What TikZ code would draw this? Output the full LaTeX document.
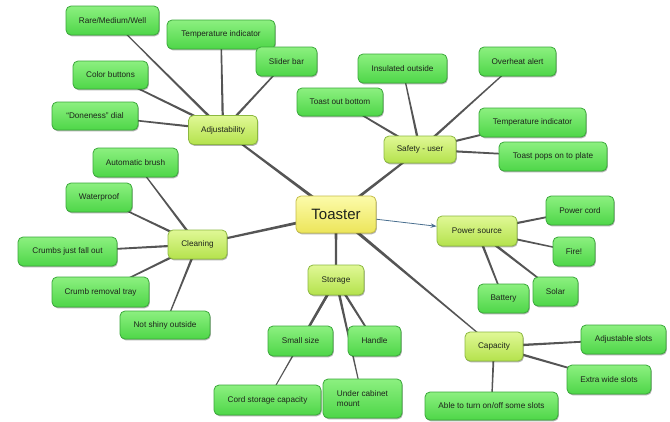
\documentclass[tikz,border=0pt]{standalone}
\usepackage{fontspec}
\setmainfont{Liberation Sans}
\usetikzlibrary{calc,shadows,backgrounds,arrows.meta}
\definecolor{childtop}{HTML}{8CF080}
\definecolor{childbot}{HTML}{4ED648}
\definecolor{childdraw}{HTML}{3AA83A}
\definecolor{hubtop}{HTML}{E0F896}
\definecolor{hubbot}{HTML}{B4E24C}
\definecolor{hubdraw}{HTML}{8CB840}
\definecolor{roottop}{HTML}{FCFBAA}
\definecolor{rootbot}{HTML}{ECE55A}
\definecolor{rootdraw}{HTML}{C4BC48}
\definecolor{linkcol}{HTML}{555555}
\definecolor{arrowcol}{HTML}{4A6F8F}
\definecolor{txtcol}{HTML}{1E241C}
\newcommand\mmlink[4]{\fill[linkcol] ($(#1.center)!#3!90:(#2.center)$) -- ($(#2.center)!#4!-90:(#1.center)$) -- ($(#2.center)!#4!90:(#1.center)$) -- ($(#1.center)!#3!-90:(#2.center)$) -- cycle;}
\tikzset{
  mmbox/.style={rounded corners=5pt, line width=0.8pt, inner sep=0pt, align=center,
    text=txtcol, font=\fontsize{8.2}{10}\selectfont, minimum height=29,
    drop shadow={shadow xshift=0.8pt, shadow yshift=-1.3pt, opacity=0.3, fill=black}},
  childbox/.style={mmbox, draw=childdraw, top color=childtop, bottom color=childbot},
  hubbox/.style={mmbox, draw=hubdraw, top color=hubtop, bottom color=hubbot},
  rootbox/.style={mmbox, draw=rootdraw, top color=roottop, bottom color=rootbot,
    font=\fontsize{15}{18}\selectfont, minimum height=37, minimum width=80},
}
\begin{document}
\begin{tikzpicture}[x=1pt,y=-1pt]
\useasboundingbox (0,0) rectangle (670,421);
% root
\node[rootbox] (T) at (336,214.5) {Toaster};
% hubs
\node[hubbox, minimum width=69] (Adj) at (223,130) {Adjustability};
\node[hubbox, minimum width=72, minimum height=27] (Saf) at (420,149.5) {Safety - user};
\node[hubbox, minimum width=59] (Cln) at (197.5,244.5) {Cleaning};
\node[hubbox, minimum width=56, minimum height=30] (Sto) at (336,280) {Storage};
\node[hubbox, minimum width=80, minimum height=30] (Pow) at (477,231) {Power source};
\node[hubbox, minimum width=58] (Cap) at (494,346.5) {Capacity};
% adjustability
\node[childbox, minimum width=93] (rare) at (112.5,20.5) {Rare/Medium/Well};
\node[childbox, minimum width=108] (tempA) at (221,34.5) {Temperature indicator};
\node[childbox, minimum width=61] (slider) at (286.5,61.5) {Slider bar};
\node[childbox, minimum width=75, minimum height=28] (colorb) at (110.5,75) {Color buttons};
\node[childbox, minimum width=86, minimum height=28] (done) at (95,116) {“Doneness” dial};
% safety
\node[childbox, minimum width=89] (insul) at (402.5,68.5) {Insulated outside};
\node[childbox, minimum width=77] (overheat) at (517.5,61.5) {Overheat alert};
\node[childbox, minimum width=86, minimum height=28] (toastout) at (340,102) {Toast out bottom};
\node[childbox, minimum width=107] (tempB) at (532.5,122.5) {Temperature indicator};
\node[childbox, minimum width=108] (pops) at (553,156.5) {Toast pops on to plate};
% cleaning
\node[childbox, minimum width=85] (brush) at (135.5,162.5) {Automatic brush};
\node[childbox, minimum width=66] (water) at (99,197.5) {Waterproof};
\node[childbox, minimum width=99] (crumbs) at (67.5,251.5) {Crumbs just fall out};
\node[childbox, minimum width=97, minimum height=30] (tray) at (100.5,292) {Crumb removal tray};
\node[childbox, minimum width=90, minimum height=28] (shiny) at (165,325) {Not shiny outside};
% storage
\node[childbox, minimum width=65, minimum height=30] (small) at (300.5,341) {Small size};
\node[childbox, minimum width=53, minimum height=30] (handle) at (374.5,341) {Handle};
\node[childbox, minimum width=107, minimum height=30] (cord) at (267.5,400) {Cord storage capacity};
\node[childbox, minimum width=79, minimum height=39, align=left] (under) at (362.5,398.5) {Under cabinet\\mount};
% power
\node[childbox, minimum width=68] (pcord) at (580,210.5) {Power cord};
\node[childbox, minimum width=42] (fire) at (574,251.5) {Fire!};
\node[childbox, minimum width=45] (solar) at (555.5,291.5) {Solar};
\node[childbox, minimum width=51] (battery) at (503.5,298.5) {Battery};
% capacity
\node[childbox, minimum width=85] (adjs) at (623.5,339.5) {Adjustable slots};
\node[childbox, minimum width=84] (extra) at (609,379.5) {Extra wide slots};
\node[childbox, minimum width=133, minimum height=28] (able) at (491.5,406) {Able to turn on/off some slots};
% arrow
\draw[arrowcol, line width=0.8pt, -{Stealth[length=6pt,width=4.5pt]}] (T) -- (Pow);
\begin{pgfonlayer}{background}
\mmlink{T}{Adj}{1.6pt}{0.9pt}
\mmlink{T}{Saf}{1.6pt}{0.9pt}
\mmlink{T}{Cln}{1.6pt}{0.9pt}
\mmlink{T}{Sto}{1.4pt}{1.0pt}
\mmlink{T}{Cap}{1.7pt}{0.5pt}
\mmlink{Adj}{rare}{1.3pt}{0.5pt}
\mmlink{Adj}{tempA}{1.2pt}{0.7pt}
\mmlink{Adj}{slider}{1.3pt}{0.6pt}
\mmlink{Adj}{colorb}{1.3pt}{0.7pt}
\mmlink{Adj}{done}{1.2pt}{0.6pt}
\mmlink{Saf}{insul}{1.3pt}{0.5pt}
\mmlink{Saf}{overheat}{1.3pt}{0.5pt}
\mmlink{Saf}{toastout}{1.2pt}{0.7pt}
\mmlink{Saf}{tempB}{1.2pt}{0.7pt}
\mmlink{Saf}{pops}{1.2pt}{0.6pt}
\mmlink{Cln}{brush}{1.3pt}{0.5pt}
\mmlink{Cln}{water}{1.3pt}{0.6pt}
\mmlink{Cln}{crumbs}{1.2pt}{0.7pt}
\mmlink{Cln}{tray}{1.3pt}{0.6pt}
\mmlink{Cln}{shiny}{1.3pt}{0.5pt}
\mmlink{Sto}{small}{1.4pt}{1.0pt}
\mmlink{Sto}{handle}{1.3pt}{0.8pt}
\mmlink{Sto}{cord}{1.2pt}{0.4pt}
\mmlink{Sto}{under}{1.4pt}{0.4pt}
\mmlink{Pow}{pcord}{1.3pt}{0.7pt}
\mmlink{Pow}{fire}{1.2pt}{0.6pt}
\mmlink{Pow}{solar}{1.4pt}{0.7pt}
\mmlink{Pow}{battery}{1.3pt}{0.7pt}
\mmlink{Cap}{adjs}{1.3pt}{0.7pt}
\mmlink{Cap}{extra}{1.3pt}{0.7pt}
\mmlink{Cap}{able}{1.0pt}{0.6pt}
\end{pgfonlayer}
\end{tikzpicture}
\end{document}
